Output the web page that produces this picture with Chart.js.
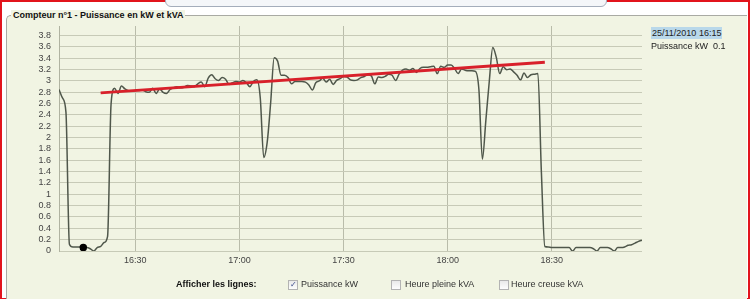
<!DOCTYPE html>
<html>
<head>
<meta charset="utf-8">
<script src="https://cdn.jsdelivr.net/npm/chart.js@4/dist/chart.umd.min.js"></script>
<style>
  html, body { margin: 0; padding: 0; background: #fff; }
  body { width: 750px; height: 299px; position: relative; overflow: hidden; font-family: 'Liberation Sans', Arial, sans-serif; }
  .frame { position: absolute; left: 0; top: 0; width: 746px; height: 296px; border: 2px solid #e2141c; }
  .tab { position: absolute; left: 165px; top: -8px; width: 440px; height: 13px; border: 1px solid #a4adbb; border-radius: 0 0 6px 6px; background: #f4f6f9; }
  .box { position: absolute; left: 6px; top: 15px; width: 740px; height: 284px; background: #f1f4e3; border-top: 1px solid #a9aaa3; border-left: 1px solid #a9aaa3; border-radius: 5px 0 0 0; }
  .legend { position: absolute; left: 11px; top: 10px; padding: 0 2px; background: #f1f4e3; font-weight: bold; font-size: 9px; color: #111; }
  #chart { position: absolute; left: 0; top: 0; }
  .info { position: absolute; left: 651px; font-size: 9px; color: #222; white-space: pre; }
  .info.date { top: 27px; background: #b9d8ea; padding: 1px 1px; }
  .info.val { top: 41px; }
  .controls { position: absolute; top: 279px; font-size: 9px; color: #333; white-space: nowrap; }
  .controls b { color: #111; }
  .cb { position: absolute; top: 280px; width: 8px; height: 8px; border: 1px solid #b3b3b3; background: linear-gradient(#e9e9e9, #fdfdfd); font-size: 8px; line-height: 8px; text-align: center; color: #3a4a8a; }
</style>
</head>
<body>
<div class="frame"></div>
<div class="tab"></div>
<div class="box"></div>
<div class="legend">Compteur n°1 - Puissance en kW et kVA</div>
<canvas id="chart" width="750" height="299"></canvas>
<div class="info date" id="infoDate"></div>
<div class="info val" id="infoVal"></div>
<div class="controls" style="left:176px"><b>Afficher les lignes:</b></div>
<div class="cb" style="left:288px">&#10003;</div>
<div class="controls" style="left:301px">Puissance kW</div>
<div class="cb" style="left:391px"></div>
<div class="controls" style="left:405px">Heure pleine kVA</div>
<div class="cb" style="left:499px"></div>
<div class="controls" style="left:511px">Heure creuse kVA</div>
<script>
// Compteur n°1 - puissance relevée chaque minute à partir de 16:08
const dateLabel = '25/11/2010';
const startMinute = 8;   // minutes après 16:00
const power = [
    2.85, 2.70, 2.45, 0.12, 0.07, 0.07, 0.07, 0.06, 0.06, 0.04,
    0.00, 0.06, 0.08, 0.15, 0.26, 2.59, 2.87, 2.78, 2.91, 2.86,
    2.83, 2.82, 2.83, 2.83, 2.84, 2.81, 2.80, 2.87, 2.78, 2.86,
    2.80, 2.78, 2.85, 2.88, 2.90, 2.88, 2.89, 2.92, 2.91, 2.90,
    2.95, 2.98, 2.90, 3.05, 3.11, 3.04, 3.01, 3.06, 3.03, 2.94,
    2.97, 2.99, 2.98, 3.01, 2.97, 2.90, 2.99, 3.02, 2.70, 1.65,
    1.92, 2.62, 3.41, 3.35, 3.10, 3.10, 3.06, 2.95, 2.99, 2.99,
    2.99, 2.98, 2.93, 2.84, 2.97, 3.00, 3.05, 2.98, 3.03, 2.94,
    3.01, 3.04, 3.08, 3.07, 3.02, 3.01, 3.02, 3.06, 3.08, 3.11,
    3.09, 2.95, 3.07, 3.06, 3.08, 3.12, 3.10, 3.01, 3.12, 3.19,
    3.21, 3.19, 3.22, 3.15, 3.22, 3.24, 3.24, 3.25, 3.26, 3.13,
    3.26, 3.24, 3.28, 3.28, 3.22, 3.13, 3.21, 3.19, 3.18, 3.18,
    3.17, 2.85, 1.62, 2.30, 3.00, 3.59, 3.42, 3.13, 3.25, 3.20,
    3.21, 3.16, 3.10, 3.02, 3.14, 3.06, 3.11, 3.12, 3.13, 1.40,
    0.08, 0.07, 0.06, 0.06, 0.06, 0.06, 0.06, 0.06, 0.00, 0.06,
    0.06, 0.06, 0.06, 0.06, 0.04, 0.00, 0.06, 0.06, 0.06, 0.04,
    0.00, 0.06, 0.06, 0.07, 0.10, 0.11, 0.14, 0.17, 0.19
];
// droite de tendance (rouge)
const trendMinutes = [20, 148];
const trendValues = [2.79, 3.33];
// ticks
const xTicks = [30, 60, 90, 120, 150];
const yTicks = [0, 0.2, 0.4, 0.6, 0.8, 1, 1.2, 1.4, 1.6, 1.8, 2, 2.2, 2.4, 2.6, 2.8, 3, 3.2, 3.4, 3.6, 3.8];
const hoverIndex = 7;   // point survolé (16:15)

function fmtTime(m) {
    const h = 16 + Math.floor(m / 60);
    const mm = Math.round(m % 60);
    return h + ':' + String(mm).padStart(2, '0');
}

const powerPoints = power.map((v, i) => ({ x: startMinute + i, y: v }));
const trendPoints = trendMinutes.map((m, i) => ({ x: m, y: trendValues[i] }));

document.getElementById('infoDate').textContent = dateLabel + ' ' + fmtTime(startMinute + hoverIndex);
document.getElementById('infoVal').textContent = 'Puissance kW  ' + power[hoverIndex].toFixed(1);

const tickFont = { family: "'Liberation Sans', Arial, sans-serif", size: 9 };

new Chart(document.getElementById('chart'), {
    type: 'line',
    data: {
        datasets: [{
            label: 'Tendance',
            data: trendPoints,
            borderColor: '#d8202a',
            borderWidth: 3,
            pointRadius: 0,
            tension: 0
        }, {
            label: 'Puissance kW',
            data: powerPoints,
            borderColor: '#4f574b',
            borderWidth: 1.5,
            cubicInterpolationMode: 'monotone',
            pointRadius: ctx => ctx.dataIndex === hoverIndex ? 3 : 0,
            pointBackgroundColor: '#000',
            pointBorderColor: '#000'
        }]
    },
    options: {
        responsive: false,
        animation: false,
        events: [],
        layout: { padding: { left: 0, right: 108, top: 26, bottom: 28 } },
        plugins: { legend: { display: false }, tooltip: { enabled: false } },
        scales: {
            x: {
                type: 'linear',
                min: startMinute,
                max: startMinute + power.length - 1,
                afterFit: scale => { scale.height = 20; },
                afterBuildTicks: scale => { scale.ticks = xTicks.map(v => ({ value: v })); },
                grid: { color: '#b9bcaa', drawTicks: false },
                border: { display: false },
                ticks: {
                    padding: 4,
                    color: '#444',
                    font: tickFont,
                    maxRotation: 0,
                    autoSkip: false,
                    callback: v => fmtTime(v)
                }
            },
            y: {
                min: 0,
                max: 3.97,
                afterFit: scale => { scale.width = 59; },
                afterBuildTicks: scale => { scale.ticks = yTicks.map(v => ({ value: v })); },
                grid: { color: '#c7cab7', drawTicks: false },
                border: { display: true, color: '#b0b3a1' },
                ticks: {
                    padding: 8,
                    color: '#444',
                    font: tickFont,
                    autoSkip: false,
                    callback: v => String(v)
                }
            }
        }
    }
});
</script>
</body>
</html>
